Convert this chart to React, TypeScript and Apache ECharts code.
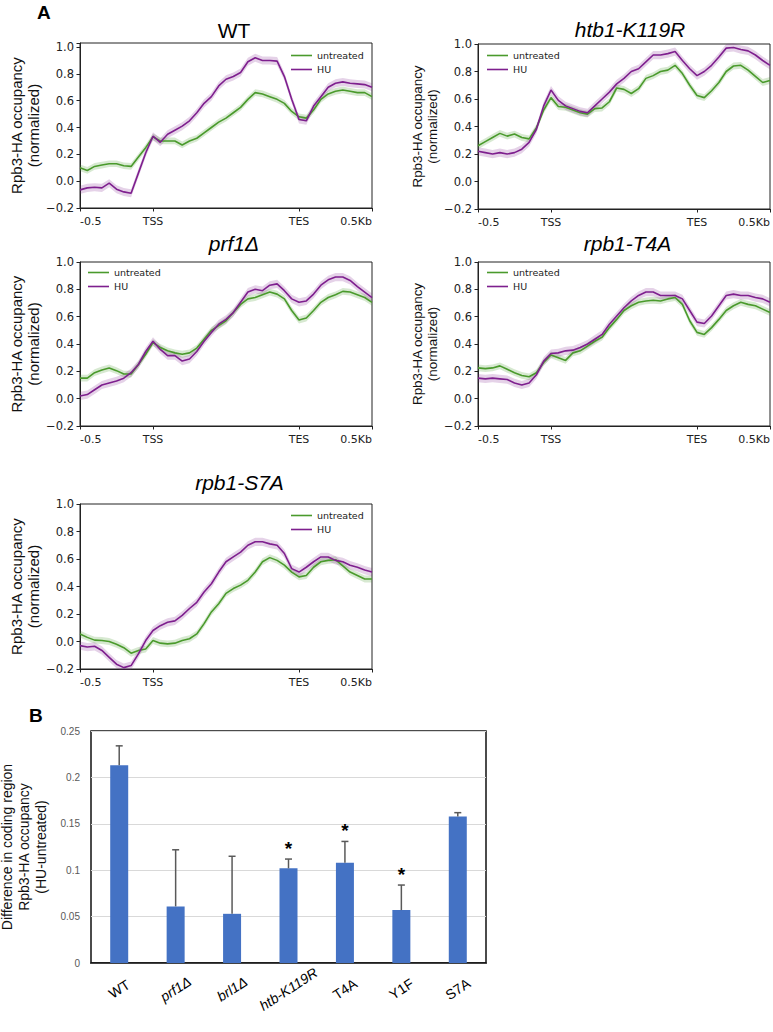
import React, { useEffect, useRef } from "react";
import * as echarts from "echarts";

// ---------- Metagene profiles (scaled regions: -0.5 kb | gene body | +0.5 kb), 41 bins ----------
const X_TICK_BINS = [0, 10, 30, 40];
const X_TICK_LABELS = ["-0.5", "TSS", "TES", "0.5Kb"];
const BIN_COUNT = 41;
const Y_TICKS_STEP = 0.2;

const WT_UNTREATED = [0.10, 0.08, 0.11, 0.12, 0.13, 0.13, 0.115, 0.11, 0.18, 0.25, 0.33, 0.30, 0.30, 0.30, 0.27, 0.30, 0.32, 0.36, 0.40, 0.44, 0.47, 0.51, 0.55, 0.61, 0.66, 0.65, 0.63, 0.61, 0.58, 0.52, 0.48, 0.47, 0.53, 0.61, 0.65, 0.67, 0.68, 0.67, 0.66, 0.66, 0.63];
const WT_HU = [-0.065, -0.05, -0.045, -0.05, -0.015, -0.06, -0.08, -0.09, 0.06, 0.21, 0.335, 0.29, 0.35, 0.38, 0.41, 0.45, 0.51, 0.58, 0.63, 0.71, 0.76, 0.78, 0.81, 0.89, 0.92, 0.90, 0.90, 0.895, 0.78, 0.61, 0.46, 0.45, 0.56, 0.63, 0.70, 0.73, 0.74, 0.73, 0.725, 0.72, 0.70];

const HTB1_UNTREATED = [0.26, 0.29, 0.32, 0.35, 0.33, 0.345, 0.32, 0.31, 0.39, 0.52, 0.61, 0.545, 0.54, 0.52, 0.50, 0.49, 0.53, 0.535, 0.58, 0.68, 0.67, 0.64, 0.675, 0.75, 0.77, 0.80, 0.81, 0.845, 0.785, 0.70, 0.625, 0.61, 0.66, 0.72, 0.80, 0.84, 0.845, 0.81, 0.765, 0.72, 0.735];
const HTB1_HU = [0.22, 0.21, 0.20, 0.21, 0.20, 0.21, 0.235, 0.285, 0.38, 0.55, 0.665, 0.59, 0.55, 0.53, 0.51, 0.50, 0.55, 0.60, 0.65, 0.71, 0.75, 0.80, 0.82, 0.87, 0.92, 0.92, 0.93, 0.945, 0.88, 0.82, 0.77, 0.80, 0.845, 0.905, 0.97, 0.975, 0.96, 0.95, 0.92, 0.88, 0.845];

const PRF1_UNTREATED = [0.15, 0.15, 0.19, 0.21, 0.225, 0.205, 0.18, 0.18, 0.25, 0.325, 0.41, 0.375, 0.35, 0.335, 0.325, 0.335, 0.37, 0.435, 0.50, 0.535, 0.57, 0.63, 0.69, 0.73, 0.74, 0.76, 0.78, 0.765, 0.73, 0.645, 0.575, 0.59, 0.645, 0.705, 0.74, 0.76, 0.785, 0.78, 0.76, 0.74, 0.705];
const PRF1_HU = [0.02, 0.03, 0.065, 0.10, 0.115, 0.13, 0.15, 0.19, 0.25, 0.345, 0.42, 0.36, 0.315, 0.315, 0.275, 0.29, 0.345, 0.42, 0.485, 0.545, 0.58, 0.63, 0.705, 0.78, 0.80, 0.79, 0.83, 0.84, 0.79, 0.73, 0.705, 0.715, 0.765, 0.83, 0.87, 0.89, 0.89, 0.865, 0.82, 0.78, 0.74];

const T4A_UNTREATED = [0.225, 0.22, 0.225, 0.24, 0.215, 0.19, 0.17, 0.16, 0.19, 0.265, 0.32, 0.30, 0.28, 0.335, 0.35, 0.385, 0.42, 0.45, 0.52, 0.58, 0.645, 0.68, 0.705, 0.715, 0.72, 0.715, 0.73, 0.74, 0.69, 0.57, 0.485, 0.47, 0.52, 0.58, 0.645, 0.68, 0.705, 0.69, 0.68, 0.655, 0.63];
const T4A_HU = [0.15, 0.145, 0.15, 0.145, 0.14, 0.115, 0.10, 0.115, 0.175, 0.275, 0.33, 0.335, 0.35, 0.355, 0.375, 0.40, 0.435, 0.47, 0.545, 0.605, 0.665, 0.715, 0.755, 0.78, 0.78, 0.755, 0.755, 0.755, 0.73, 0.645, 0.56, 0.55, 0.605, 0.68, 0.755, 0.765, 0.755, 0.755, 0.74, 0.73, 0.705];

const S7A_UNTREATED = [0.055, 0.03, 0.01, 0.007, 0.0, -0.02, -0.045, -0.085, -0.065, -0.055, 0.007, -0.012, -0.017, -0.012, 0.007, 0.02, 0.055, 0.13, 0.215, 0.275, 0.35, 0.385, 0.41, 0.445, 0.505, 0.58, 0.61, 0.59, 0.555, 0.505, 0.47, 0.48, 0.54, 0.58, 0.59, 0.595, 0.55, 0.505, 0.48, 0.455, 0.455];
const S7A_HU = [-0.03, -0.04, -0.035, -0.065, -0.115, -0.165, -0.19, -0.175, -0.09, 0.007, 0.08, 0.115, 0.14, 0.15, 0.19, 0.24, 0.285, 0.36, 0.42, 0.505, 0.58, 0.615, 0.65, 0.70, 0.725, 0.725, 0.71, 0.70, 0.64, 0.53, 0.505, 0.54, 0.58, 0.615, 0.615, 0.59, 0.58, 0.555, 0.54, 0.52, 0.505];

// standard-error half-widths of the shaded bands
const SEM_UNTREATED = 0.025;
const SEM_HU = 0.03;

// ---------- Coding-region difference (HU - untreated) ----------
const BAR_CATEGORIES = ["WT", "prf1Δ", "brl1Δ", "htb-K119R", "T4A", "Y1F", "S7A"];
const BAR_MEANS = [0.213, 0.061, 0.053, 0.102, 0.108, 0.057, 0.158];
const BAR_ERRORS = [0.021, 0.061, 0.062, 0.010, 0.023, 0.027, 0.004];
const BAR_SIGNIFICANT = [false, false, false, true, true, true, false];

// ---------- styling / layout ----------
const GREEN = "#4a9a2c";
const PURPLE = "#7e1f8e";
const BAR_BLUE = "#4472C4";
const MPL_FONT = "DejaVu Sans";
const SANS = "Liberation Sans";
const ITALIC_BAR_LABELS = new Set(["prf1Δ", "brl1Δ", "htb-K119R"]);
const LABEL_ANGLE = (33 * Math.PI) / 180;
const LABEL_DY = 26;

const PANELS = [
  { title: "WT", italic: false, untreated: WT_UNTREATED, hu: WT_HU, left: 80, top: 43, height: 165, yMax: 1.03, titleX: 234, titleY: 30.5, legendLeft: 291, legendTop: 50, nameSize: 15, nameGap: 36 },
  { title: "htb1-K119R", italic: true, untreated: HTB1_UNTREATED, hu: HTB1_HU, left: 478, top: 44, height: 165, yMax: 1.0, titleX: 630, titleY: 29, legendLeft: 487, legendTop: 50, nameSize: 13.4, nameGap: 32 },
  { title: "prf1Δ", italic: true, untreated: PRF1_UNTREATED, hu: PRF1_HU, left: 80, top: 262, height: 164, yMax: 1.0, titleX: 234, titleY: 243.5, legendLeft: 88, legendTop: 267, nameSize: 15, nameGap: 36 },
  { title: "rpb1-T4A", italic: true, untreated: T4A_UNTREATED, hu: T4A_HU, left: 478, top: 262, height: 164, yMax: 1.0, titleX: 627.5, titleY: 243, legendLeft: 487, legendTop: 267, nameSize: 13.4, nameGap: 32 },
  { title: "rpb1-S7A", italic: true, untreated: S7A_UNTREATED, hu: S7A_HU, left: 80, top: 504, height: 165, yMax: 1.0, titleX: 239.5, titleY: 482.5, legendLeft: 291, legendTop: 510, nameSize: 15, nameGap: 36 },
];
const PANEL_WIDTH = 292;

const BAR_GRID = { left: 91, top: 731, width: 395, height: 232 };
const BAR_INDEX = PANELS.length;

function buildOption() {
  const bins = Array.from({ length: BIN_COUNT }, (_, i) => String(i));
  const isTick = (i: number) => X_TICK_BINS.includes(i);

  const grid: any[] = [];
  const xAxis: any[] = [];
  const yAxis: any[] = [];
  const series: any[] = [];
  const legend: any[] = [];
  const graphic: any[] = [];

  PANELS.forEach((p, k) => {
    grid.push({
      left: p.left, top: p.top, width: PANEL_WIDTH, height: p.height,
      show: true, borderColor: "#222", borderWidth: 1, backgroundColor: "transparent",
      containLabel: false, outerBoundsMode: "none",
    });
    xAxis.push({
      type: "category", gridIndex: k, data: bins, boundaryGap: false,
      axisLine: { show: true, onZero: false, lineStyle: { color: "#222", width: 1 } },
      axisTick: { show: true, interval: (i: number) => isTick(i), length: 3.5, lineStyle: { color: "#222" } },
      axisLabel: {
        show: true, interval: (i: number) => isTick(i),
        formatter: (_v: string, i: number) => X_TICK_LABELS[X_TICK_BINS.indexOf(i)] ?? "",
        fontFamily: MPL_FONT, fontSize: 11, color: "#222", margin: 8,
        alignMinLabel: "left", alignMaxLabel: "right",
      },
      splitLine: { show: false },
    });
    yAxis.push({
      type: "value", gridIndex: k, min: -0.2, max: p.yMax, interval: Y_TICKS_STEP,
      axisLine: { show: true, onZero: false, lineStyle: { color: "#222", width: 1 } },
      axisTick: { show: true, length: 3.5, lineStyle: { color: "#222" } },
      axisLabel: {
        fontFamily: MPL_FONT, fontSize: 11.5, color: "#222", margin: 6,
        formatter: (v: number) => {
          const r = Math.round(v / Y_TICKS_STEP);
          if (Math.abs(v / Y_TICKS_STEP - r) > 1e-6) return "";
          return (r * Y_TICKS_STEP).toFixed(1).replace("-", "\u2212");
        },
      },
      splitLine: { show: false },
      name: "Rpb3-HA occupancy\n(normalized)",
      nameLocation: "middle", nameRotate: 90, nameGap: p.nameGap,
      nameTextStyle: { fontFamily: SANS, fontSize: p.nameSize, lineHeight: p.nameSize + 2, color: "#111" },
    });

    const groups = [
      { name: "untreated", data: p.untreated, color: GREEN, sem: SEM_UNTREATED, band: "rgba(74,154,44,0.22)" },
      { name: "HU", data: p.hu, color: PURPLE, sem: SEM_HU, band: "rgba(126,31,142,0.2)" },
    ];
    groups.forEach((g) => {
      const stack = `band-${k}-${g.name}`;
      series.push({
        type: "line", name: `${g.name} lower ${k}`, xAxisIndex: k, yAxisIndex: k,
        data: g.data.map((v) => v - g.sem), stack, stackStrategy: "all",
        symbol: "none", lineStyle: { opacity: 0 }, silent: true, z: 1,
      });
      series.push({
        type: "line", name: `${g.name} band ${k}`, xAxisIndex: k, yAxisIndex: k,
        data: g.data.map(() => 2 * g.sem), stack, stackStrategy: "all",
        symbol: "none", lineStyle: { opacity: 0 }, areaStyle: { color: g.band, opacity: 1 }, silent: true, z: 1,
      });
    });
    groups.forEach((g) => {
      series.push({
        type: "line", name: g.name, xAxisIndex: k, yAxisIndex: k, data: g.data,
        symbol: "none", showSymbol: false, color: g.color,
        lineStyle: { color: g.color, width: 1.6 }, z: 3,
      });
    });

    legend.push({
      data: ["untreated", "HU"], orient: "vertical", left: p.legendLeft, top: p.legendTop,
      icon: "rect", itemWidth: 21, itemHeight: 1.6, itemGap: 3, selectedMode: false, padding: 0,
      textStyle: { fontFamily: MPL_FONT, fontSize: 9.5, color: "#222", lineHeight: 11 },
    });

    graphic.push({
      id: `title-${k}`, type: "text", x: p.titleX, y: p.titleY,
      style: {
        text: p.title, fontFamily: SANS, fontSize: 21, fontStyle: p.italic ? "italic" : "normal",
        fill: "#000", align: "center", verticalAlign: "middle",
      },
    });
  });

  // ----- bar panel -----
  const bi = BAR_INDEX;
  grid.push({
    left: BAR_GRID.left, top: BAR_GRID.top, width: BAR_GRID.width, height: BAR_GRID.height,
    show: true, borderColor: "#111", borderWidth: 1.5, containLabel: false, outerBoundsMode: "none",
  });
  xAxis.push({
    type: "category", gridIndex: bi, data: BAR_CATEGORIES,
    axisLine: { show: true, lineStyle: { color: "#111", width: 1.5 } },
    axisTick: { show: false }, axisLabel: { show: false }, splitLine: { show: false },
  });
  yAxis.push({
    type: "value", gridIndex: bi, min: 0, max: 0.25, interval: 0.05,
    axisLine: { show: false }, axisTick: { show: false },
    axisLabel: {
      fontFamily: SANS, fontSize: 10, color: "#595959", margin: 11,
      formatter: (v: number) => String(Number(v.toFixed(2))),
    },
    splitLine: { show: true, lineStyle: { color: "#d9d9d9", width: 1 } },
    name: "Difference in coding region\nRpb3-HA occupancy\n(HU-untreated)",
    nameLocation: "middle", nameRotate: 90, nameGap: 40,
    nameTextStyle: { fontFamily: SANS, fontSize: 14, lineHeight: 17, color: "#111" },
  });
  series.push({
    type: "bar", name: "difference", xAxisIndex: bi, yAxisIndex: bi, data: BAR_MEANS,
    barWidth: 18, itemStyle: { color: BAR_BLUE }, z: 2,
  });
  series.push({
    type: "custom", name: "sem", xAxisIndex: bi, yAxisIndex: bi, z: 4,
    data: BAR_CATEGORIES.map((_, i) => [i, BAR_MEANS[i], BAR_ERRORS[i], BAR_SIGNIFICANT[i] ? 1 : 0]),
    renderItem: (_params: any, api: any) => {
      const i = api.value(0);
      const mean = api.value(1);
      const err = api.value(2);
      const sig = api.value(3);
      const base = api.coord([i, mean]);
      const top = api.coord([i, mean + err]);
      const stroke = { stroke: "#595959", lineWidth: 1.5 };
      const children: any[] = [
        { type: "line", shape: { x1: base[0], y1: base[1], x2: top[0], y2: top[1] }, style: stroke },
        { type: "line", shape: { x1: top[0] - 3.5, y1: top[1], x2: top[0] + 3.5, y2: top[1] }, style: stroke },
      ];
      if (sig) {
        children.push({
          type: "text", x: top[0], y: top[1] - 11,
          style: { text: "*", fontFamily: SANS, fontWeight: "bold", fontSize: 19, fill: "#000", align: "center", verticalAlign: "middle" },
        });
      }
      return { type: "group", children };
    },
  });

  graphic.push({ id: "panel-a", type: "text", x: 37, y: 12, style: { text: "A", fontFamily: SANS, fontWeight: "bold", fontSize: 19, fill: "#000", verticalAlign: "middle" } });
  graphic.push({ id: "panel-b", type: "text", x: 29, y: 715, style: { text: "B", fontFamily: SANS, fontWeight: "bold", fontSize: 19, fill: "#000", verticalAlign: "middle" } });

  return { animation: false, backgroundColor: "#fff", grid, xAxis, yAxis, series, legend, graphic };
}

// slanted category names, centred under each bar from the bar axis' own pixel mapping
function categoryLabels(chart: echarts.ECharts) {
  return BAR_CATEGORIES.map((name, i) => {
    const pt = chart.convertToPixel({ gridIndex: BAR_INDEX } as any, [i, 0]) as number[];
    return {
      id: `category-${i}`, type: "text",
      x: pt[0], y: pt[1] + LABEL_DY, rotation: LABEL_ANGLE,
      style: {
        text: name, fontFamily: SANS, fontSize: 14, fill: "#000",
        fontStyle: ITALIC_BAR_LABELS.has(name) ? "italic" : "normal",
        align: "center", verticalAlign: "middle",
      },
    };
  });
}

export default function App() {
  const ref = useRef<HTMLDivElement>(null);
  useEffect(() => {
    if (!ref.current) return;
    const chart = echarts.init(ref.current, undefined, { renderer: "svg" });
    const option: any = buildOption();
    chart.setOption(option);
    chart.setOption({ graphic: [...option.graphic, ...categoryLabels(chart)] } as any);
    return () => chart.dispose();
  }, []);
  return <div ref={ref} style={{ position: "absolute", left: 0, top: 0, width: 773, height: 1032 }} />;
}
